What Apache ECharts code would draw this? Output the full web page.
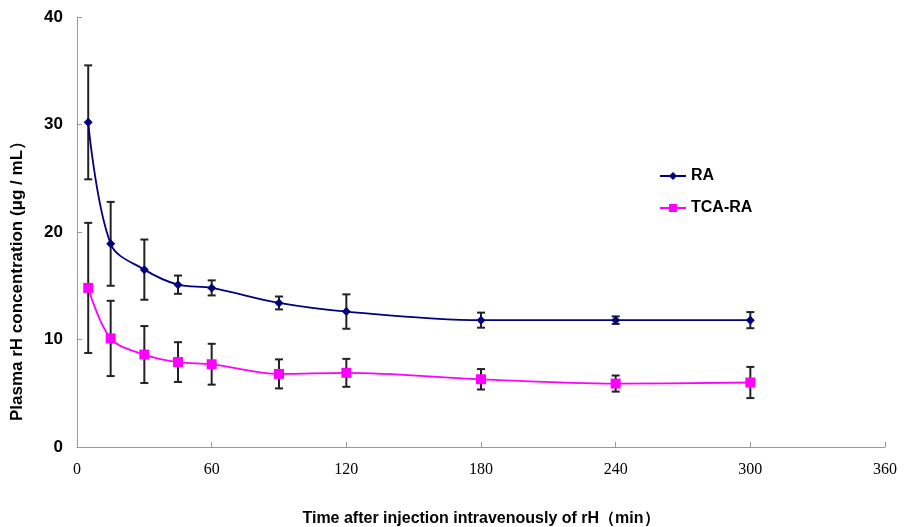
<!DOCTYPE html>
<html><head><meta charset="utf-8">
<script src="https://cdn.jsdelivr.net/npm/echarts@6/dist/echarts.min.js"></script>
<style>html,body{margin:0;padding:0;background:#fff}#c{width:907px;height:527px}</style>
</head><body><div id="c"></div>
<script>
var times = [5, 15, 30, 45, 60, 90, 120, 180, 240, 300];
var raMean = [30.2, 18.9, 16.5, 15.1, 14.8, 13.4, 12.6, 11.8, 11.8, 11.8];
var raSD = [5.3, 3.9, 2.8, 0.85, 0.7, 0.6, 1.6, 0.7, 0.35, 0.75];
var tcaMean = [14.8, 10.1, 8.6, 7.9, 7.7, 6.8, 6.9, 6.3, 5.9, 6.0];
var tcaSD = [6.05, 3.5, 2.65, 1.85, 1.9, 1.35, 1.3, 0.95, 0.75, 1.45];
var xTicks = [0, 60, 120, 180, 240, 300, 360];
var yTicks = [0, 10, 20, 30, 40];

function pairs(m){ return times.map(function(t,i){ return [t, m[i]]; }); }
function errData(m, s){ return times.map(function(t,i){ return [t, m[i]-s[i], m[i]+s[i]]; }); }
function errRender(params, api){
  var x = api.value(0);
  var lo = api.coord([x, api.value(1)]);
  var hi = api.coord([x, api.value(2)]);
  var w = 4;
  var st = {stroke:'#222', lineWidth:2};
  return {type:'group', children:[
    {type:'line', shape:{x1:lo[0],y1:lo[1],x2:hi[0],y2:hi[1]}, style:st},
    {type:'line', shape:{x1:lo[0]-w,y1:lo[1],x2:lo[0]+w,y2:lo[1]}, style:st},
    {type:'line', shape:{x1:hi[0]-w,y1:hi[1],x2:hi[0]+w,y2:hi[1]}, style:st}
  ]};
}
var chart = echarts.init(document.getElementById('c'));
chart.setOption({
  animation:false,
  grid:{left:77, right:22, top:17, bottom:80, outerBoundsMode:'none', containLabel:false},
  legend:{
    orient:'vertical', left:654, top:163, itemGap:16, itemWidth:26, itemHeight:10,
    textStyle:{fontFamily:'Liberation Sans', fontWeight:'bold', fontSize:16, color:'#000'},
    data:['RA','TCA-RA']
  },
  xAxis:{
    type:'value', min:0, max:360, interval:60,
    name:'Time after injection intravenously of rH（min）', nameLocation:'middle', nameGap:64,
    nameTextStyle:{fontFamily:'Liberation Sans', fontWeight:'bold', fontSize:16, color:'#000'},
    axisLine:{lineStyle:{color:'#999', width:1}},
    axisTick:{inside:true, length:5, lineStyle:{color:'#999'}},
    axisLabel:{fontFamily:'Liberation Serif', fontSize:16, color:'#000', margin:15},
    splitLine:{show:false}
  },
  yAxis:{
    type:'value', min:0, max:40, interval:10,
    name:'Plasma rH concentration (μg / mL）', nameLocation:'middle', nameGap:51,
    nameTextStyle:{fontFamily:'Liberation Sans', fontWeight:'bold', fontSize:17, color:'#000', padding:[0,90,0,0]},
    axisLine:{show:true, lineStyle:{color:'#999', width:1}},
    axisTick:{show:true, inside:true, length:5, lineStyle:{color:'#999'}},
    axisLabel:{fontFamily:'Liberation Sans', fontWeight:'bold', fontSize:17, color:'#000', margin:14},
    splitLine:{show:false}
  },
  series:[
    {type:'custom', renderItem:errRender, data:errData(raMean, raSD), encode:{x:0,y:[1,2]}, z:1, silent:true},
    {type:'custom', renderItem:errRender, data:errData(tcaMean, tcaSD), encode:{x:0,y:[1,2]}, z:1, silent:true},
    {name:'RA', type:'line', data:pairs(raMean), smooth:0.35, symbol:'diamond', symbolSize:9,
     lineStyle:{color:'#000080', width:1.8}, itemStyle:{color:'#000080'}, z:3},
    {name:'TCA-RA', type:'line', data:pairs(tcaMean), smooth:0.35, symbol:'rect', symbolSize:10,
     lineStyle:{color:'#ff00ff', width:1.8}, itemStyle:{color:'#ff00ff'}, z:3}
  ]
});
</script></body></html>
